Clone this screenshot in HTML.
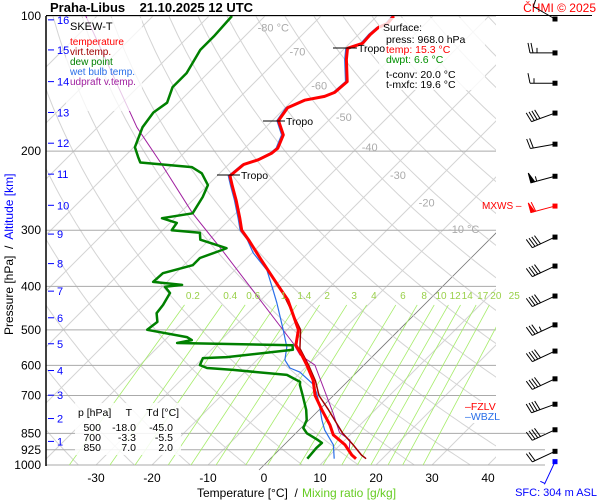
<!DOCTYPE html>
<html><head><meta charset="utf-8"><style>
body{margin:0;background:#fff}
svg{display:block;font-family:"Liberation Sans",sans-serif}
.pre{white-space:pre}
</style></head><body>
<svg id="c" width="600" height="500" viewBox="0 0 600 500">
<defs><clipPath id="pc"><rect x="46" y="16" width="450" height="449"/></clipPath></defs>
<g id="grid" clip-path="url(#pc)"></g>
<g id="hlines"></g>
<g id="mix" clip-path="url(#pc)"></g>
<g id="prof"></g>
<g id="ann"></g>
<g id="axes"></g>
<g id="barbs"></g>
</svg>
<script>
const tempP=[968,950,902,857,814,754,700,647,599,569,541,500,429,400,350,315,300,282,257,239,227,214,209,202,197,184,171,160,154,151,148,140,125,118,115,110,106,104,100];
const tempT=[15.3,13.9,10.9,7.0,4.6,0.5,-3.3,-6.4,-10.2,-12.9,-15.7,-18.0,-25.2,-29.3,-37,-43,-45.9,-48.4,-52.3,-55.5,-57.7,-57.3,-55.5,-54.3,-54.1,-55.5,-58.9,-59.6,-57.9,-55,-53.9,-53.6,-57.7,-59.5,-57.7,-57.9,-57.7,-56.8,-57];
const dewP=[968,916,893,880,850,827,794,754,700,663,653,630,614,608,599,578,575,554,541,535,527,519,500,480,459,440,414,401,397,391,374,359,346,332,329,315,304,300,289,282,275,253,238,224,217,212,206,196,182,177,164,156,144,134,119,111,100];
const dewT=[6.6,6.3,6.4,5.2,2.0,0.4,-0.4,-2.3,-5.5,-7.9,-8.4,-12,-22.5,-27.5,-29.3,-30,-25.9,-15.4,-16.3,-37.3,-35.2,-36.6,-45,-44.6,-46.3,-46.6,-47.5,-49.5,-46.8,-52.5,-52.3,-48.4,-48.4,-45.9,-45.4,-51.6,-52.9,-58.4,-58.8,-62.3,-57.7,-58.8,-60,-63.2,-66.1,-76.1,-77.5,-79.8,-81.4,-82,-82.7,-82,-83.8,-83.8,-85.5,-85.5,-85.9];
const wetP=[968,902,836,794,754,700,663,621,608,584,546,500,436,408,368,337,315,300,282,257,239,227,214,209,202,197,184,171,160,154,151,148,140,125,118,115,110,106,104,100];
const wetT=[11.4,8.8,4.6,2.3,0.2,-2.9,-5.4,-10.2,-12.7,-15,-17,-20.7,-26.6,-29.6,-34.3,-39.8,-43.2,-46.2,-48.7,-52.6,-55.8,-58,-57.6,-55.8,-54.6,-54.4,-55.8,-59.2,-59.9,-58.2,-55.3,-54.2,-53.9,-58,-59.8,-58,-58.2,-58,-57.1,-57.3];
const virtP=[968,950,900,850,800,750,700,650,600,550,500,400];
const virtT=[17.1,15.6,12.2,8.4,5.0,1.4,-2.6,-5.8,-9.8,-14.4,-17.6,-29.1];
const parcP=[925,880,847,765,599,569,535,332,275,212,177,100];
const parcT=[12.5,10.9,7.7,3.0,-8.75,-13.2,-16.6,-45.9,-57.7,-72.5,-83,-112];
const pressTicks=[100,200,300,400,500,600,700,850,925,1000];
const tempTicks=[-30,-20,-10,0,10,20,30,40];
const kmLabels=[16,15,14,13,12,11,10,9,8,7,6,5,4,3,2,1];
const kmP=[102,119,140,164,192,225,264,306,356,410,470,537,616,699,788,886];
const mixW=[0.2,0.4,0.6,1,1.4,2,3,4,6,8,10,12,14,17,20,25];
const isoLabelT=[-80,-70,-60,-50,-40,-30,-20,-10];
const isoLabelP=[106,120,143,168,196,226,260,298];
const windP=[100,119,139,162,190,224,261,306,355,414,480,549,633,721,822,918];
const windDir=[300,270,270,250,260,255,255,245,245,245,245,245,245,250,245,245];
const windKt=[10,25,15,40,20,55,60,40,40,40,35,40,40,40,40,20];

const NS='http://www.w3.org/2000/svg';
function yOf(p){return 16+195*Math.log(p/100);}
function xOf(T,p){return 264+5.6*T+(465-yOf(p));}
function mk(tag,parent,attrs){const e=document.createElementNS(NS,tag);for(const k in attrs)e.setAttribute(k,attrs[k]);parent.appendChild(e);return e;}
function txt(parent,x,y,s,attrs){const e=mk('text',parent,Object.assign({x:x,y:y},attrs||{}));e.textContent=s;return e;}
const G=id=>document.getElementById(id);

const grid=G('grid');
for(let T=-130;T<=50;T+=10){
  const l=mk('line',grid,{x1:xOf(T,1050),y1:yOf(1050),x2:xOf(T,100),y2:yOf(100),stroke:T==0?'#777':'#d4d4d4','stroke-width':T==0?0.8:1});
  
  
}
for(let th=240;th<=520;th+=10){
  let d='';
  for(let p=1050;p>=100;p-=10){const T=th*Math.pow(p/1000,0.286)-273.15;d+=(d?'L':'M')+xOf(T,p).toFixed(1)+','+yOf(p).toFixed(1);}
  const a=mk('path',grid,{d:d,fill:'none',stroke:'#d4d4d4','stroke-width':1});
  
  
}
mk('line',G('hlines'),{x1:xOf(0,1000),y1:465,x2:xOf(0,1000)-5,y2:470,stroke:'#777','stroke-width':0.8});
const hl=G('hlines');
pressTicks.forEach(p=>{
  const r=(p>=850)?545:496;
  const l=mk('line',hl,{x1:46,y1:yOf(p),x2:r,y2:yOf(p),stroke:'#aaa','stroke-width':1});
  
  
});
const mix=G('mix');
function tdOf(w,p){const e=w*p/(622+w);const L=Math.log(e/6.112);return 243.5*L/(17.67-L);}
mixW.forEach(w=>{
  const l=mk('line',mix,{x1:xOf(tdOf(w,1050),1050),y1:yOf(1050),x2:xOf(tdOf(w,440),440),y2:yOf(440),stroke:'#a6ec6a','stroke-width':0.8});
  
  
});
const mixLab=mk('g',G('ann'),{});
mixW.forEach(w=>{
  const p=415;
  const t=txt(mixLab,xOf(tdOf(w,p),p),299,String(w),{'font-size':10,fill:'#9ad04a','text-anchor':'middle'});
  
  
});
isoLabelT.forEach((T,i)=>{
  const p=isoLabelP[i];
  const t=txt(G('ann'),xOf(T,p)+4,yOf(p)+4,T==-80||T==-10?T+' °C':String(T),{'font-size':11,fill:'#aaa'});
  
  
});
const prof=G('prof');
function line(P,T,col,w,name){
  let d='';P.forEach((p,i)=>{d+=(i?'L':'M')+xOf(T[i],p).toFixed(1)+','+yOf(p).toFixed(1);});
  const e=mk('path',prof,{d:d,fill:'none',stroke:col,'stroke-width':w,'stroke-linejoin':'round'});
  
  
}
line(parcP,parcT,'#a020a0',1,'updraft-virtual-temp-line');
line(wetP,wetT,'#2a6fe8',1.2,'wet-bulb-line');
line(dewP,dewT,'#008000',2.5,'dew-point-line');
line(virtP,virtT,'#a00000',1.5,'virtual-temp-line');
line(tempP,tempT,'#ff0000',3,'temperature-line');
const ann=G('ann');
const b1=mk('rect',ann,{x:66,y:18,width:76,height:93,fill:'#fff','fill-opacity':0.75});

txt(ann,70,30,'SKEW-T',{'font-size':11,fill:'#000'});
[['temperature','#ff0000'],['virt.temp.','#a00000'],['dew point','#008000'],['wet bulb temp.','#2a6fe8'],['udpraft v.temp.','#a020a0']].forEach((e,i)=>{
  const t=txt(ann,70,45+i*10,e[0],{'font-size':10,fill:e[1]});
  
  
});
const b2=mk('rect',ann,{x:379,y:18,width:106,height:72,fill:'#fff','fill-opacity':0.8});

[['Surface:',383,31,'#000'],['press: 968.0 hPa',386,43,'#000'],['temp: 15.3 °C',386,53,'#ff0000'],['dwpt: 6.6 °C',386,63,'#009000'],['t-conv: 20.0 °C',386,78,'#000'],['t-mxfc: 19.6 °C',386,88,'#000']].forEach(e=>txt(ann,e[1],e[2],e[0],{'font-size':10.5,fill:e[3]}));
const b3=mk('rect',ann,{x:75,y:403,width:106,height:52,fill:'#fff','fill-opacity':0.85});

txt(ann,78,416,'p [hPa]     T     Td [°C]',{'font-size':10.5,fill:'#000','class':'pre'});
[['500','-18.0','-45.0'],['700','-3.3','-5.5'],['850','7.0','2.0']].forEach((r,i)=>{
  const y=431+i*10;
  txt(ann,101,y,r[0],{'font-size':10.5,'text-anchor':'end'});
  txt(ann,136,y,r[1],{'font-size':10.5,'text-anchor':'end'});
  txt(ann,173,y,r[2],{'font-size':10.5,'text-anchor':'end'});
});
[[333,357,48],[263,285,121],[217,240,175]].forEach(t=>{
  mk('line',ann,{x1:t[0],y1:t[2],x2:t[1],y2:t[2],stroke:'#000','stroke-width':1});
  const e=txt(ann,t[1]+1,t[2]+4,'Tropo',{'font-size':10.5,fill:'#000'});
  
});
mk('rect',ann,{x:464,y:401,width:42,height:22,fill:'#fff'});
txt(ann,465,410,'–FZLV',{'font-size':10.5,fill:'#ff0000'});
txt(ann,465,420,'–WBZL',{'font-size':10.5,fill:'#2a6fe8'});
txt(ann,482,209,'MXWS –',{'font-size':10,fill:'#ff0000'});
const ax=G('axes');
mk('line',ax,{x1:46,y1:16,x2:46,y2:466,stroke:'#000','stroke-width':1.5});
mk('line',ax,{x1:46,y1:15.5,x2:592,y2:15.5,stroke:'#000','stroke-width':1});
pressTicks.forEach(p=>{const t=txt(ax,41,yOf(p)+4,String(p),{'font-size':12,'text-anchor':'end'});});
tempTicks.forEach(T=>{const t=txt(ax,xOf(T,1000),482,String(T),{'font-size':12,'text-anchor':'middle'});});
kmLabels.forEach((k,i)=>{
  const y=yOf(kmP[i]);
  mk('line',ax,{x1:48,y1:y,x2:54,y2:y,stroke:'#0000ff','stroke-width':1});
  const t=txt(ax,57,y+4,String(k),{'font-size':11,fill:'#0000ff'});
  
});
const xt=txt(ax,197,497,'Temperature [°C]  /',{'font-size':12,'class':'pre'});

txt(ax,302,497,'Mixing ratio [g/kg]',{'font-size':12,fill:'#66cc22'});
const yt=mk('text',ax,{transform:'translate(13,335) rotate(-90)','font-size':12,'class':'pre'});

yt.innerHTML='<tspan fill="#000">Pressure [hPa]  /  </tspan><tspan fill="#0000ff">Altitude [km]</tspan>';
const tt=txt(ax,50,12,'Praha-Libus    21.10.2025 12 UTC',{'font-size':13,'font-weight':'bold','class':'pre'});

txt(ax,596,12,'ČHMI © 2025',{'font-size':12,fill:'#ff0000','text-anchor':'end'});
txt(ax,597,496,'SFC: 304 m ASL',{'font-size':11,fill:'#0000ff','text-anchor':'end'});
const bg=G('barbs');
function barb(p,dir,kt,col,name){
  const g=mk('g',bg,{stroke:col,fill:col,'stroke-width':1});
  
  
  const x0=555,y0=yOf(p)+3;
  const a=dir*Math.PI/180;const vx=Math.sin(a),vy=-Math.cos(a);
  const L=25,x1=x0+vx*L,y1=y0+vy*L;
  mk('line',g,{x1:x0,y1:y0,x2:x1,y2:y1});
  mk('rect',g,{x:x0-2,y:y0-2,width:4,height:4});
  const px=-vy,py=vx;let s=kt,pos=0;
  while(s>=50){const bx=x1-vx*pos,by=y1-vy*pos;mk('path',g,{d:`M${bx},${by}L${bx+px*10},${by+py*10}L${bx-vx*4},${by-vy*4}Z`});pos+=5;s-=50;}
  while(s>=10){const bx=x1-vx*pos,by=y1-vy*pos;mk('line',g,{x1:bx,y1:by,x2:bx+px*10+vx*2,y2:by+py*10+vy*2});pos+=3;s-=10;}
  if(s>=5){const bx=x1-vx*(pos+1),by=y1-vy*(pos+1);mk('line',g,{x1:bx,y1:by,x2:bx+px*5,y2:by+py*5});}
}
windP.forEach((p,i)=>barb(p,windDir[i],windKt[i],(windP[i]==261)?'#ff0000':'#000','wind-barb'));
barb(968,205,5,'#0000ff','surface-wind-barb');
</script>
</body></html>
